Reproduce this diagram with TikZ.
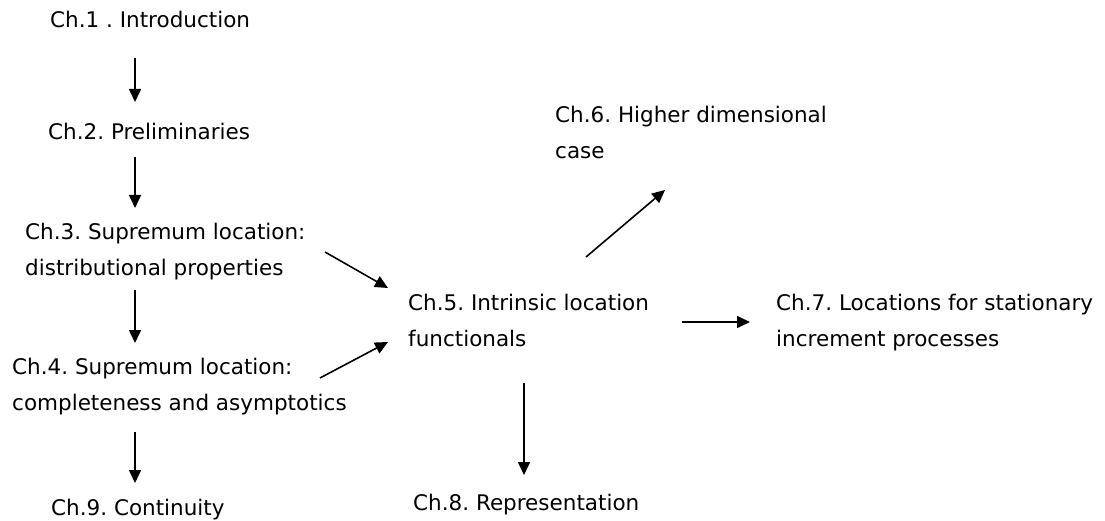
\documentclass[tikz,border=0pt]{standalone}
\usepackage{fontspec}
\setmainfont{DejaVu Sans}
\usetikzlibrary{arrows.meta}
\frenchspacing

\tikzset{
    chap/.style = {anchor=base west, inner sep=0pt, align=left,
                   font=\fontsize{21.5}{36}\selectfont},
    link/.style = {-{Triangle[length=13pt,width=12pt]}, line width=1.6pt}
}

\begin{document}
\begin{tikzpicture}[x=1pt, y=-1pt]
    \useasboundingbox (0,0) rectangle (1105,521);

    % Chapters (base = last line)
    \node[chap] (ch1) at (50,28)  {Ch.1 . Introduction};
    \node[chap] (ch2) at (48,140) {Ch.2. Preliminaries};
    \node[chap] (ch3) at (25,276) {Ch.3. Supremum location:\\distributional properties};
    \node[chap] (ch4) at (12,410) {Ch.4. Supremum location:\\completeness and asymptotics};
    \node[chap] (ch9) at (51,515) {Ch.9. Continuity};
    \node[chap] (ch5) at (408,346) {Ch.5. Intrinsic location\\functionals};
    \node[chap] (ch6) at (555,159) {Ch.6. Higher dimensional\\case};
    \node[chap] (ch7) at (776,346) {Ch.7. Locations for stationary\\increment processes};
    \node[chap] (ch8) at (413,510) {Ch.8. Representation};

    % Left column
    \draw[link] ([xshift=85pt,yshift=-30pt]ch1.base west) -- ([xshift=87pt,yshift=38pt]ch2.base west);
    \draw[link] ([xshift=87pt,yshift=-17pt]ch2.base west) -- ([xshift=110pt,yshift=68pt]ch3.base west);
    \draw[link] ([xshift=110pt,yshift=-14pt]ch3.base west) -- ([xshift=123pt,yshift=67pt]ch4.base west);
    \draw[link] ([xshift=123pt,yshift=-22pt]ch4.base west) -- ([xshift=84pt,yshift=32pt]ch9.base west);

    % Into Ch.5
    \draw[link] ([xshift=300pt,yshift=24pt]ch3.base west) -- ([xshift=-20pt,yshift=58pt]ch5.base west);
    \draw[link] ([xshift=308pt,yshift=32pt]ch4.base west) -- ([xshift=-20pt,yshift=4pt]ch5.base west);

    % Out of Ch.5
    \draw[link] ([xshift=178pt,yshift=89pt]ch5.base west) -- ([xshift=110pt,yshift=-31pt]ch6.base west);
    \draw[link] ([xshift=274pt,yshift=24pt]ch5.base west) -- ([xshift=-26pt,yshift=24pt]ch7.base west);
    \draw[link] ([xshift=116pt,yshift=-37pt]ch5.base west) -- ([xshift=111pt,yshift=35pt]ch8.base west);
\end{tikzpicture}
\end{document}
